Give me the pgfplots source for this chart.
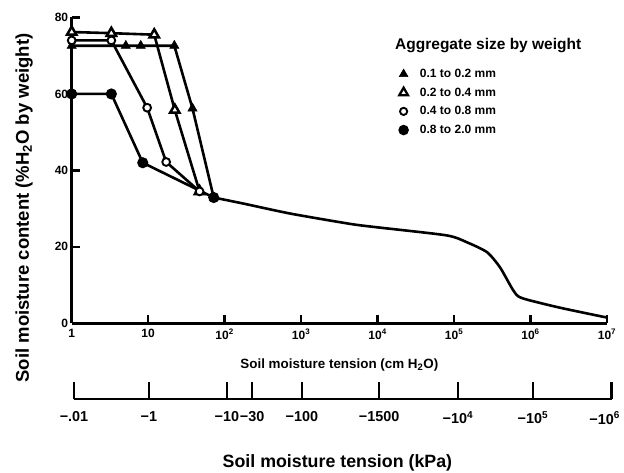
\documentclass[border=0pt]{standalone}
\usepackage{fontspec}
\setmainfont{Liberation Sans}
\usepackage{pgfplots}
\pgfplotsset{compat=1.18}

\newcommand{\tfont}{\bfseries\fontsize{12}{14}\selectfont}

\begin{document}
\begin{tikzpicture}
\useasboundingbox (-71.7pt,-149.7pt) rectangle (552.3pt,323.3pt);

% main axis: tension in cm H2O (log) vs moisture content
\begin{axis}[
    scale only axis,
    width=535.3pt, height=305.8pt,
    xmode=log, xmin=1, xmax=1e7,
    ymin=0, ymax=80,
    axis lines=left,
    axis line style={line width=2.8pt, -},
    tick align=inside,
    major tick length=8.5pt,
    tick style={line width=2.4pt, black},
    xminorticks=false,
    xtick={1,10,100,1000,10000,100000,1000000,10000000},
    xticklabels={1,10,10\textsuperscript{2},10\textsuperscript{3},10\textsuperscript{4},10\textsuperscript{5},10\textsuperscript{6},10\textsuperscript{7}},
    ytick={0,20,40,60,80},
    yticklabels={0,20,40,60,80},
    ticklabel style={font=\tfont},
    xticklabel style={yshift=-2.5pt},
    xlabel={Soil moisture tension (cm H\textsubscript{2}O)},
    xlabel style={font=\bfseries\fontsize{13.4}{15}\selectfont,
        at={(axis description cs:0.5,-0.135)}, anchor=center},
    ylabel={Soil moisture content (\%H\textsubscript{2}O by weight)},
    ylabel style={font=\bfseries\fontsize{18.5}{20}\selectfont,
        at={(axis description cs:-0.089,0.377)}, anchor=center},
    clip=false,
    legend style={draw=none, fill=none, at={(axis description cs:0.606,0.845)},
        anchor=north west, font=\bfseries\fontsize{12}{14}\selectfont, row sep=4.8pt,
        nodes={inner xsep=4pt}},
    legend cell align=left,
    every axis plot/.append style={line width=2.6pt, black},
]
% retention curve common to all aggregate sizes
\addplot[smooth, tension=0.4, forget plot] coordinates {
  (72,32.9) (178,31.3) (724,28.7) (4400,26.0) (1e4,25.1) (8e4,23.0)
  (1.47e5,21.2) (2.7e5,18.6) (4e5,14.6) (6e5,8.5) (7.7e5,6.6)
  (2.4e6,4.1) (1e7,1.5)};

% 0.1 to 0.2 mm
\addplot[mark=triangle*, mark size=5.4pt, mark options={solid, fill=black, line width=0.5pt}, forget plot]
  coordinates {(1,72.6) (5.1,72.6) (8,72.6) (22,72.6) (38,56.2) (72,32.9)};
% 0.2 to 0.4 mm
\addplot[mark=triangle*, mark size=5.4pt, mark options={solid, fill=white, line width=2.5pt}, forget plot]
  coordinates {(1,76.2) (3.3,75.9) (12,75.5) (22.3,55.8) (47,34.5)};
% 0.4 to 0.8 mm
\addplot[mark=*, mark size=3.9pt, mark options={solid, fill=white, line width=1.9pt}, forget plot]
  coordinates {(1,74) (3.3,74) (9.7,56.4) (17.2,42.2) (47,34.5)};
% 0.8 to 2.0 mm
\addplot[mark=*, mark size=4.2pt, mark options={solid, fill=black}, forget plot]
  coordinates {(1,60) (3.3,60) (8.5,42) (72,32.9)};

\addlegendimage{only marks, mark=triangle*, mark size=5pt, mark options={fill=black, line width=0.5pt}}
\addlegendentry{\hspace{8pt}0.1 to 0.2 mm}
\addlegendimage{only marks, mark=triangle*, mark size=5pt, mark options={fill=white, line width=2.3pt}}
\addlegendentry{\hspace{8pt}0.2 to 0.4 mm}
\addlegendimage{only marks, mark=*, mark size=3.6pt, mark options={fill=white, line width=1.9pt}}
\addlegendentry{\hspace{8pt}0.4 to 0.8 mm}
\addlegendimage{only marks, mark=*, mark size=3.9pt, mark options={fill=black}}
\addlegendentry{\hspace{8pt}0.8 to 2.0 mm}

\node[anchor=west, inner sep=0pt, font=\bfseries\fontsize{15.5}{17}\selectfont]
  at (axis description cs:0.604,0.907) {Aggregate size by weight};
\end{axis}

% secondary scale: the same tensions in kPa
\begin{axis}[
    at={(2.3pt,-76pt)},
    scale only axis,
    width=537.6pt, height=20pt,
    xmin=0.03, xmax=7.06, ymin=0, ymax=1,
    axis x line=bottom, axis y line=none,
    axis line style={line width=2.4pt, -},
    tick align=inside,
    major tick length=17.5pt,
    tick style={line width=2.4pt, black},
    xtick={0.03,1.01,2.03,2.36,3.01,4.02,5.05,6.03,7.06},
    xticklabels={−.01,−1,−10,−30,−100,−1500,−10\textsuperscript{4},−10\textsuperscript{5},\hspace{-14pt}−10\textsuperscript{6}},
    ticklabel style={font=\bfseries\fontsize{14.4}{16}\selectfont},
    xticklabel style={yshift=-9pt},
    xlabel={Soil moisture tension (kPa)},
    xlabel style={font=\bfseries\fontsize{17.8}{19}\selectfont,
        at={(axis description cs:0.49,-3.185)}, anchor=center},
]
\end{axis}
\end{tikzpicture}
\end{document}
